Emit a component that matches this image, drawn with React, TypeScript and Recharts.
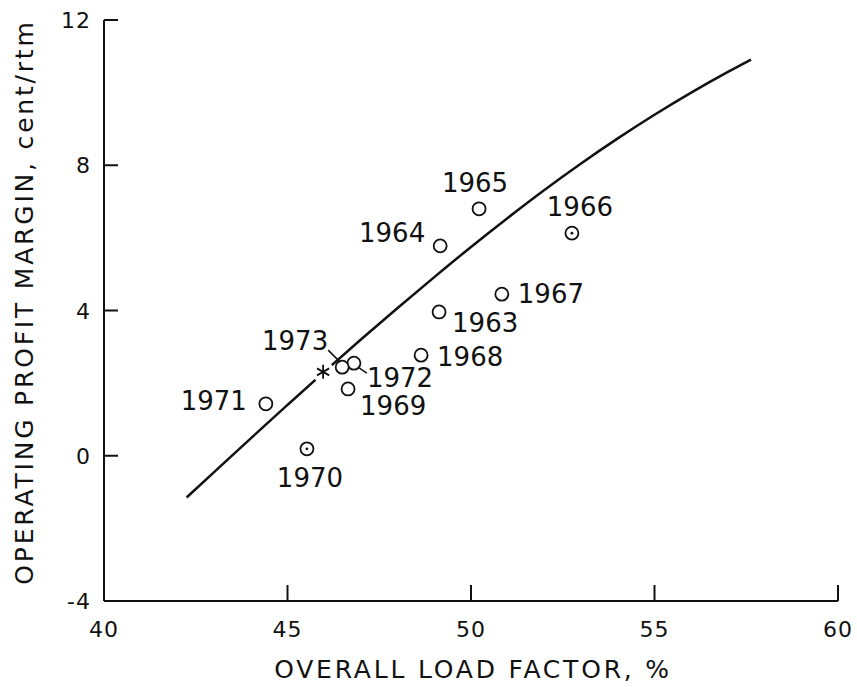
import React from 'react';
import { ComposedChart, Line, Scatter, XAxis, YAxis, Label } from 'recharts';

// axes
const xTicks = [40, 45, 50, 55, 60];
const yTicks = [-4, 0, 4, 8, 12];

// yearly observations
const years = [1963, 1964, 1965, 1966, 1967, 1968, 1969, 1970, 1971, 1972, 1973];
const loadFactor = [49.13, 49.16, 50.22, 52.75, 50.84, 48.64, 46.65, 45.53, 44.41, 46.81, 46.49];
const profitMargin = [3.96, 5.78, 6.8, 6.13, 4.45, 2.77, 1.84, 0.19, 1.43, 2.55, 2.44];
const dottedYears = [1966, 1970];

// asterisk point (unlabelled)
const starX = [45.97];
const starY = [2.31];

// fitted curve
const curveX = [42.25, 43, 44, 45, 46, 47, 48, 49, 50, 51, 52, 53, 54, 55, 56, 57, 57.63];
const curveY = [-1.15, -0.45, 0.48, 1.4, 2.31, 3.2, 4.07, 4.92, 5.75, 6.55, 7.32, 8.05, 8.74, 9.39, 10.0, 10.57, 10.91];

// where each year label sits relative to its circle
const labelPos: Record<number, { dx: number; dy: number; anchor: string; lead?: number[] }> = {
  1963: { dx: 13, dy: 20, anchor: 'start' },
  1964: { dx: -15, dy: -4, anchor: 'end' },
  1965: { dx: -4, dy: -17, anchor: 'middle' },
  1966: { dx: 8, dy: -17, anchor: 'middle' },
  1967: { dx: 16, dy: 9, anchor: 'start' },
  1968: { dx: 16, dy: 11, anchor: 'start' },
  1969: { dx: 12, dy: 26, anchor: 'start' },
  1970: { dx: 3, dy: 38, anchor: 'middle' },
  1971: { dx: -19, dy: 6, anchor: 'end' },
  1972: { dx: 13, dy: 24, anchor: 'start', lead: [4, 4, 13, 10] },
  1973: { dx: -14, dy: -17, anchor: 'end', lead: [-14, -17, -2, -5] },
};

const points = years.map((year, i) => ({ x: loadFactor[i], y: profitMargin[i], year }));
const starData = starX.map((x, i) => ({ x, y: starY[i] }));
const curveData = curveX.map((x, i) => ({ x, y: curveY[i] }));

const INK = '#111';
const FONT = '"DejaVu Sans", sans-serif';

const W = 857;
const H = 687;
const margin = { top: 20, right: 19, bottom: 56, left: 44 };
const X_AXIS_H = 30;
const Y_AXIS_W = 60;
const AXIS_Y = H - margin.bottom - X_AXIS_H; // 601
const AXIS_X = margin.left + Y_AXIS_W; // 104

// ticks point inward, so the tick line is drawn here instead of by recharts
const XTick = (props: any) => {
  const { x, payload } = props;
  return (
    <g>
      <path d={`M${x},${AXIS_Y}V${AXIS_Y - 16}`} stroke={INK} strokeWidth={2} fill="none" />
      <text x={x} y={AXIS_Y + 36} textAnchor="middle" fontFamily={FONT} fontSize={22} letterSpacing={1} fill={INK}>
        {payload.value}
      </text>
    </g>
  );
};

const YTick = (props: any) => {
  const { y, payload } = props;
  return (
    <g>
      <path d={`M${AXIS_X},${y}H${AXIS_X + 14}`} stroke={INK} strokeWidth={2} fill="none" />
      <text x={AXIS_X - 13} y={y + 8} textAnchor="end" fontFamily={FONT} fontSize={22} letterSpacing={1} fill={INK}>
        {payload.value}
      </text>
    </g>
  );
};

const YearMark = (props: any) => {
  const { cx, cy, payload } = props;
  const pos = labelPos[payload.year];
  const dotted = dottedYears.includes(payload.year);
  return (
    <g>
      <circle cx={cx} cy={cy} r={6.5} fill="#fff" stroke={INK} strokeWidth={1.8} />
      {dotted && <circle cx={cx} cy={cy} r={1.4} fill={INK} />}
      {pos.lead && (
        <path
          d={`M${cx + pos.lead[0]},${cy + pos.lead[1]}L${cx + pos.lead[2]},${cy + pos.lead[3]}`}
          stroke={INK}
          strokeWidth={1.5}
          fill="none"
        />
      )}
      <text x={cx + pos.dx} y={cy + pos.dy} textAnchor={pos.anchor} fontFamily={FONT} fontSize={26} fill={INK}>
        {payload.year}
      </text>
    </g>
  );
};

const StarMark = (props: any) => {
  const { cx, cy } = props;
  const r = 7;
  const arms = [90, 30, -30];
  const d = arms
    .map((a) => {
      const rad = (a * Math.PI) / 180;
      return `M${cx - r * Math.cos(rad)},${cy - r * Math.sin(rad)}L${cx + r * Math.cos(rad)},${cy + r * Math.sin(rad)}`;
    })
    .join('');
  return (
    <g>
      <circle cx={cx} cy={cy} r={11} fill="#fff" />
      <path d={d} stroke={INK} strokeWidth={1.8} fill="none" />
    </g>
  );
};

const XTitle = (props: any) => {
  const { x, width } = props.viewBox;
  return (
    <text x={x + width / 2 + 2} y={AXIS_Y + 77} textAnchor="middle" fontFamily={FONT} fontSize={25} letterSpacing={2.8} fill={INK}>
      OVERALL LOAD FACTOR, %
    </text>
  );
};

const YTitle = () => {
  const tx = 33;
  const ty = 302;
  return (
    <text
      x={tx}
      y={ty}
      transform={`rotate(-90, ${tx}, ${ty})`}
      textAnchor="middle"
      fontFamily={FONT}
      fontSize={25}
      letterSpacing={2.8}
      fill={INK}
    >
      OPERATING PROFIT MARGIN, cent/rtm
    </text>
  );
};

export default function App() {
  return (
    <div style={{ position: 'absolute', left: 0, top: 0, background: '#fff' }}>
      <ComposedChart width={W} height={H} margin={margin}>
        <XAxis
          type="number"
          dataKey="x"
          domain={[40, 60]}
          ticks={xTicks}
          allowDataOverflow
          height={X_AXIS_H}
          axisLine={{ stroke: INK, strokeWidth: 2 }}
          tickLine={false}
          tick={(p: any) => <XTick {...p} />}
        >
          <Label content={XTitle} />
        </XAxis>
        <YAxis
          type="number"
          dataKey="y"
          domain={[-4, 12]}
          ticks={yTicks}
          allowDataOverflow
          width={Y_AXIS_W}
          axisLine={{ stroke: INK, strokeWidth: 2 }}
          tickLine={false}
          tick={(p: any) => <YTick {...p} />}
        >
          <Label content={YTitle} />
        </YAxis>
        <Line
          data={curveData}
          dataKey="y"
          type="monotone"
          stroke={INK}
          strokeWidth={2.5}
          dot={false}
          activeDot={false}
          isAnimationActive={false}
        />
        <Scatter data={starData} dataKey="y" shape={StarMark} isAnimationActive={false} />
        <Scatter data={points} dataKey="y" shape={YearMark} isAnimationActive={false} />
      </ComposedChart>
    </div>
  );
}
